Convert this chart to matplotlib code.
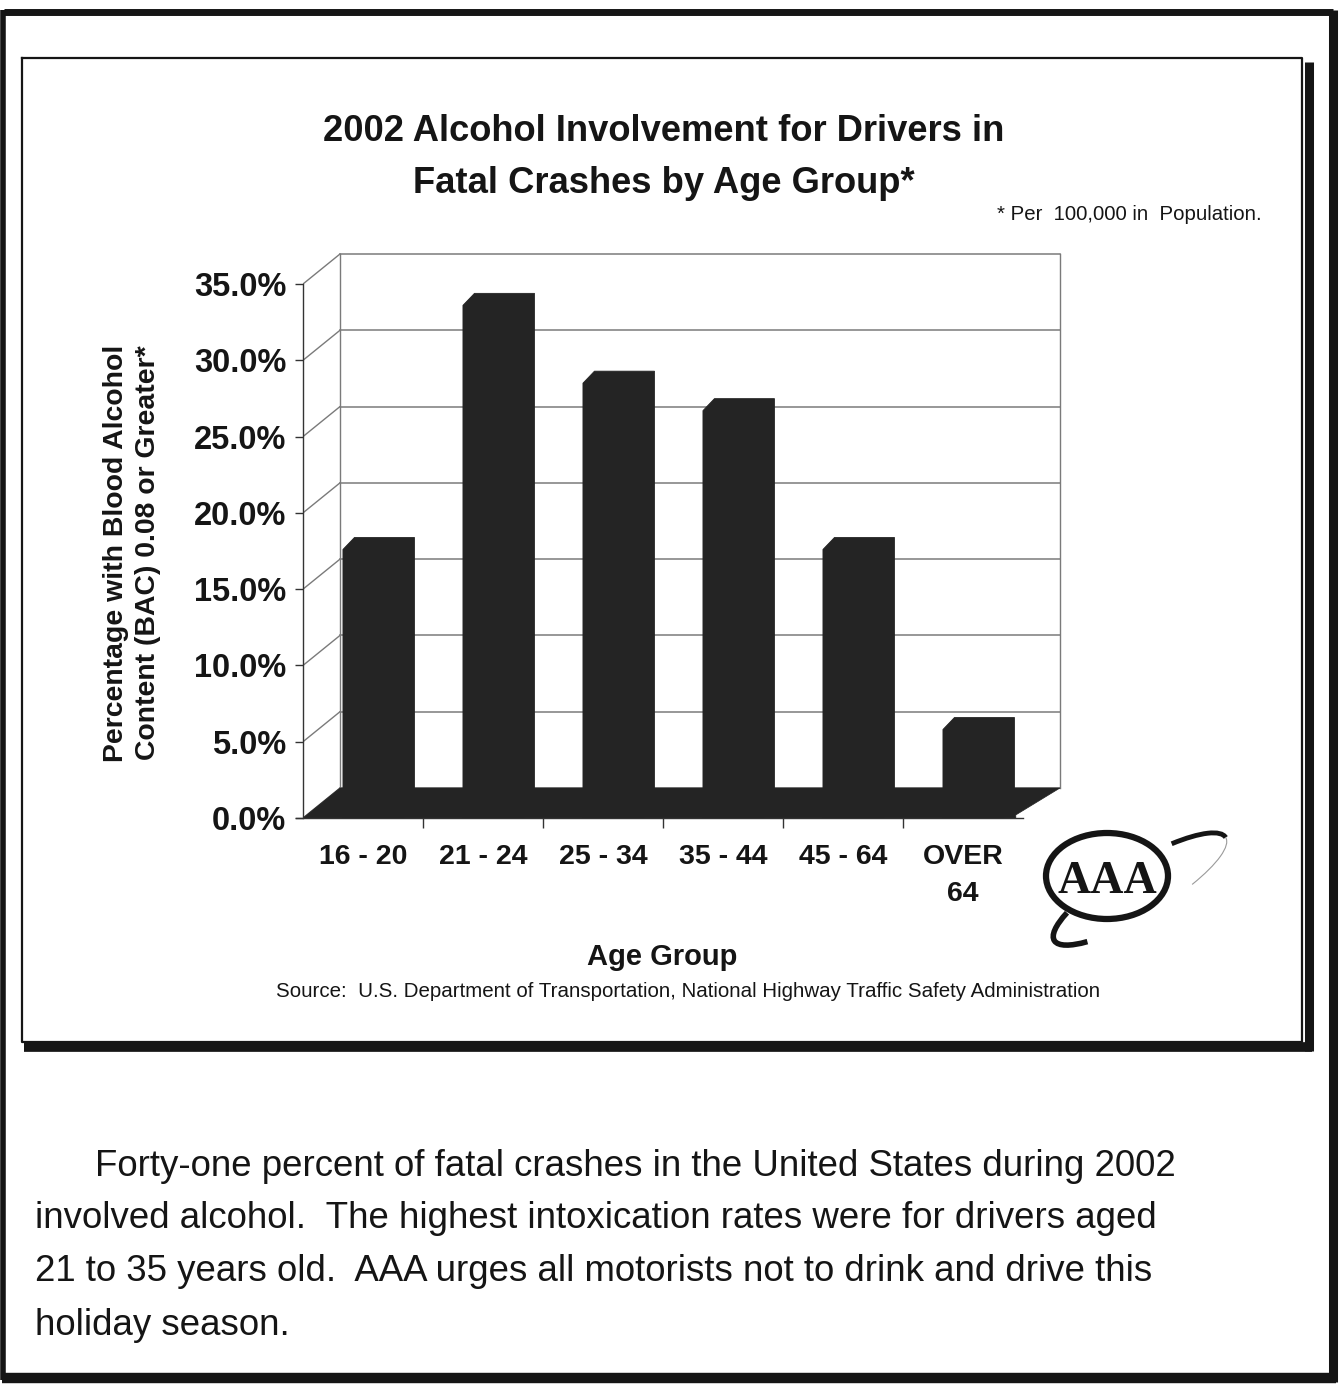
import matplotlib
matplotlib.use('Agg')
import matplotlib.pyplot as plt
from matplotlib.patches import Polygon, Ellipse, Arc
from matplotlib import font_manager
import numpy as np

# ---------------- data ----------------
categories = ['16 - 20', '21 - 24', '25 - 34', '35 - 44', '45 - 64', 'OVER\n64']
values = [17.6, 33.6, 28.5, 26.7, 17.6, 5.8]
yticks = [0, 5, 10, 15, 20, 25, 30, 35]
ytick_labels = ['0.0%', '5.0%', '10.0%', '15.0%', '20.0%', '25.0%', '30.0%', '35.0%']
title_lines = ['2002 Alcohol Involvement for Drivers in', 'Fatal Crashes by Age Group*']
ylabel = 'Percentage with Blood Alcohol\nContent (BAC) 0.08 or Greater*'
xlabel = 'Age Group'
footnote = '* Per  100,000 in  Population.'
source = 'Source:  U.S. Department of Transportation, National Highway Traffic Safety Administration'
logo_text = 'AAA'
paragraph = [
    'Forty-one percent of fatal crashes in the United States during 2002',
    'involved alcohol.  The highest intoxication rates were for drivers aged',
    '21 to 35 years old.  AAA urges all motorists not to drink and drive this',
    'holiday season.',
]

# ---------------- styling ----------------
W, H = 1342, 1389
BAR = '#242424'
INK = '#151515'
GRID = '#7a7a7a'
SANS = 'Liberation Sans'
avail = {f.name for f in font_manager.fontManager.ttflist}
PARA_FAMILY = 'Liberation Sans Narrow' if 'Liberation Sans Narrow' in avail else 'Liberation Sans'

plt.rcParams['font.family'] = [SANS, 'DejaVu Sans']

fig = plt.figure(figsize=(W / 100, H / 100), dpi=100)
fig.patch.set_facecolor('white')
renderer = fig.canvas.get_renderer()


def fit(texts, target_px, dim='width'):
    """Scale font size of texts so that the first one spans target_px."""
    ext = texts[0].get_window_extent(renderer=renderer)
    cur = ext.width if dim == 'width' else ext.height
    if cur > 0:
        scale = target_px / cur
        for t in texts:
            t.set_fontsize(t.get_fontsize() * scale)


# pixel-based overlay for page decoration and free text
deco = fig.add_axes([0, 0, 1, 1], zorder=0)
deco.set_xlim(0, W)
deco.set_ylim(H, 0)
deco.axis('off')

# outer page border
deco.plot([4, 1333], [12, 12], color=INK, lw=5.0, solid_capstyle='butt')
deco.plot([3, 3], [10, 1380], color=INK, lw=4.0, solid_capstyle='butt')
deco.plot([1333, 1333], [10, 1382], color=INK, lw=6.5, solid_capstyle='butt')
deco.plot([2, 1336], [1378, 1378], color=INK, lw=7.5, solid_capstyle='butt')

# inner chart box with shadow
deco.plot([22, 1302, 1302, 22, 22], [58, 58, 1042, 1042, 58], color=INK, lw=1.6)
deco.plot([1309, 1309], [62, 1051], color=INK, lw=6.5, solid_capstyle='butt')
deco.plot([24, 1312], [1047, 1047], color=INK, lw=7.0, solid_capstyle='butt')

# ---------------- chart axes (front plane) ----------------
X0, X1 = -0.5, 5.85
Y0, Y1 = 0.0, 37.5
px_per_x = 120.0
px_per_y = 534.0 / 35.0
left_px, bottom_px = 303, 818
ax_w = (X1 - X0) * px_per_x
ax_h = (Y1 - Y0) * px_per_y
ax = fig.add_axes([left_px / W, 1 - bottom_px / H, ax_w / W, ax_h / H], zorder=1)
ax.set_xlim(X0, X1)
ax.set_ylim(Y0, Y1)
ax.patch.set_alpha(0)

DX = 37.0 / px_per_x      # depth offset of back wall
DY = 30.0 / px_per_y
BDX = 11.5 / px_per_x     # depth of the bars
BDY = 12.0 / px_per_y

n = len(categories)
xs = np.arange(n)

# back wall and side wall gridlines
for k in yticks:
    ax.plot([X0 + DX, n - 0.5 + DX], [k + DY, k + DY], color=GRID, lw=1.1, zorder=1)
    ax.plot([X0, X0 + DX], [k, k + DY], color=GRID, lw=1.0, zorder=1)
ax.plot([X0 + DX, X0 + DX], [DY, yticks[-1] + DY], color=GRID, lw=1.0, zorder=1)
ax.plot([n - 0.5 + DX, n - 0.5 + DX], [DY, yticks[-1] + DY], color=GRID, lw=1.0, zorder=1)

# floor slab
floor = Polygon([(X0, 0), (n - 0.56, 0), (n - 0.56, 0.2), (n - 0.5 + DX, DY),
                 (X0 + DX, DY)], closed=True, facecolor=BAR, edgecolor=BAR, lw=0.5, zorder=2)
ax.add_patch(floor)

# bars: front face drawn by bar(), full silhouette (top + side) on top of it
bw = 0.5
bx = xs - 0.167
ax.bar(bx, values, width=bw, align='edge', color=BAR, edgecolor=BAR, lw=0.5, zorder=3)
for x0, v in zip(bx, values):
    sil = Polygon([(x0, 0), (x0, v), (x0 + BDX, v + BDY), (x0 + bw + BDX, v + BDY),
                   (x0 + bw + BDX, BDY), (x0 + bw, 0)],
                  closed=True, facecolor=BAR, edgecolor=BAR, lw=0.6, zorder=4)
    ax.add_patch(sil)

# axes, ticks
for s in ['top', 'right']:
    ax.spines[s].set_visible(False)
ax.spines['left'].set_bounds(0, yticks[-1])
ax.spines['bottom'].set_bounds(X0 - 0.06, n - 0.5)
for s in ['left', 'bottom']:
    ax.spines[s].set_color('#333333')
    ax.spines[s].set_linewidth(1.0)

ax.set_yticks(yticks)
ax.set_yticklabels(ytick_labels)
ax.tick_params(axis='y', direction='out', length=6, width=1.0, pad=6, labelsize=23.5,
               colors='#333333', labelcolor=INK)
for t in ax.get_yticklabels():
    t.set_fontweight('bold')

ax.set_xticks(xs)
ax.set_xticklabels(categories, fontsize=20.5, fontweight='bold', color=INK, linespacing=1.55)
ax.set_xticks(np.arange(0.5, n - 0.5, 1.0), minor=True)
ax.tick_params(axis='x', which='major', length=0, pad=19)
ax.tick_params(axis='x', which='minor', direction='out', length=7, width=1.0, colors='#333333')

# ---------------- texts ----------------
t1 = deco.text(664, 141, title_lines[0], ha='center', va='baseline', fontsize=25.5,
               fontweight='bold', color=INK)
t2 = deco.text(664, 193, title_lines[1], ha='center', va='baseline', fontsize=25.5,
               fontweight='bold', color=INK)
fit([t1, t2], 682)

fn = deco.text(1262, 220, footnote, ha='right', va='baseline', fontsize=12.5, color=INK)
fit([fn], 265)

yl = deco.text(132, 553, ylabel, ha='center', va='center', rotation=90, fontsize=19.5,
               fontweight='bold', color=INK, linespacing=1.3, multialignment='center')
fit([yl], 417, dim='height')

deco.text(662, 965, xlabel, ha='center', va='baseline', fontsize=21, fontweight='bold', color=INK)
src = deco.text(688, 997, source, ha='center', va='baseline', fontsize=13.5, color=INK)
fit([src], 822)

# paragraph
para_x = [95, 35, 35, 35]
para_y = [1176, 1228, 1281, 1335]
ptexts = []
for txt, px, py in zip(paragraph, para_x, para_y):
    ptexts.append(deco.text(px, py, txt, ha='left', va='baseline', fontsize=24,
                            family=PARA_FAMILY, color=INK))
fit(ptexts, 1080)

# ---------------- AAA logo ----------------
deco.add_patch(Ellipse((1107, 876), 122, 86, fill=False, edgecolor=INK, lw=4.5))
deco.text(1107, 893, logo_text, ha='center', va='baseline', fontsize=33, fontweight='bold',
          family='Liberation Serif', color=INK)
deco.add_patch(Arc((1140, 889), 200, 52, angle=-31, theta1=166, theta2=193,
                   color=INK, lw=4.0))
deco.add_patch(Arc((1140, 889), 200, 52, angle=-31, theta1=336, theta2=360,
                   color=INK, lw=3.5))
deco.add_patch(Arc((1140, 889), 200, 52, angle=-31, theta1=0, theta2=26,
                   color='#9a9a9a', lw=0.8))

fig.savefig('out.png', dpi=100, facecolor='white')
